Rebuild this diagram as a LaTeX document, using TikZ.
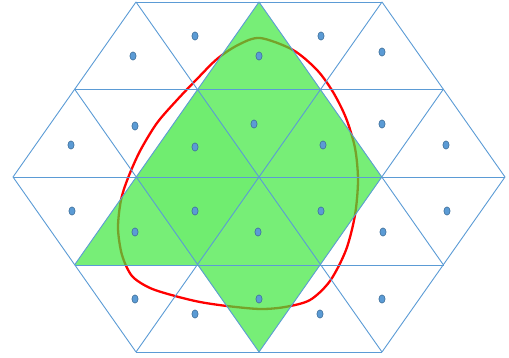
\documentclass[tikz,border=0pt]{standalone}
\usetikzlibrary{positioning}
\definecolor{gridblue}{HTML}{5B9BD5}
\definecolor{dotedge}{HTML}{41719C}
\definecolor{patchgreen}{HTML}{3DE73D}
\definecolor{curvered}{HTML}{FF0000}

\begin{document}
\begin{tikzpicture}[
  x=1pt,
  y=-1pt,
  line join=round,
  gridline/.style={draw=gridblue,line width=0.9pt},
  patch/.style={fill=patchgreen,fill opacity=0.7},
  overlap/.style={fill=patchgreen,fill opacity=0.12},
  blob/.style={draw=curvered,line width=2.3pt},
  celldot/.style={fill=gridblue,draw=dotedge,line width=0.6pt}
]
  % Match the artwork frame.
  \useasboundingbox (0,0) rectangle (509,358);

  % Lattice vertices, row by row from the top.
  \coordinate (a1) at (136,2);
  \coordinate (a2) at (259,2);
  \coordinate (a3) at (382,2);
  \coordinate (b1) at (74.5,89);
  \coordinate (b2) at (197.5,89);
  \coordinate (b3) at (320.5,89);
  \coordinate (b4) at (443.5,89);
  \coordinate (c1) at (13,177);
  \coordinate (c2) at (136,177);
  \coordinate (c3) at (259,177);
  \coordinate (c4) at (382,177);
  \coordinate (c5) at (505,177);
  \coordinate (d1) at (74.5,265);
  \coordinate (d2) at (197.5,265);
  \coordinate (d3) at (320.5,265);
  \coordinate (d4) at (443.5,265);
  \coordinate (e1) at (136,352);
  \coordinate (e2) at (259,352);
  \coordinate (e3) at (382,352);

  % Red region boundary goes first, the green patch is laid over it.
  \draw[blob] plot[smooth cycle] coordinates {
    (260,38) (293,50) (317,70) (333,92) (346,118) (355,148) (358,180)
    (355,215) (346,250) (330,281) (310,300) (285,307) (260,309)
    (227,306) (200,302) (175,296) (150,288) (132,276) (122,255)
    (118,228) (121,200) (128,178) (140,151) (157,123) (177,100)
    (197,79) (217,59) (238,45)};

  % Selected cells: union of the rhombus and the left parallelogram.
  \fill[patch] (a2) -- (c4) -- (e2) -- (d2) -- (d1) -- cycle;
  \fill[overlap] (b2) -- (c3) -- (d2) -- (c2) -- cycle;

  % Horizontal rows.
  \draw[gridline] (a1) -- (a3);
  \draw[gridline] (b1) -- (b4);
  \draw[gridline] (c1) -- (c5);
  \draw[gridline] (d1) -- (d4);
  \draw[gridline] (e1) -- (e3);

  % Both diagonal families.
  \foreach \s/\t in {a1/c1,a2/d1,a3/e1,b4/e2,c5/e3,a3/c5,a2/d4,a1/e3,b1/e2,c1/e1} {
    \draw[gridline] (\s) -- (\t);
  }

  % One dot per triangle.
  \foreach \p in {(133,56),(195,36),(259,56),(321,36),(382,52),
                  (71,145),(135,126),(195,147),(254,124),(323,145),(382,124),(446,145),
                  (72,211),(135,232),(195,211),(258,232),(321,211),(383,232),(447,211),
                  (135,299),(195,314),(259,299),(320,314),(382,299)} {
    \filldraw[celldot] \p ellipse[x radius=3.1,y radius=4.1];
  }
\end{tikzpicture}
\end{document}
